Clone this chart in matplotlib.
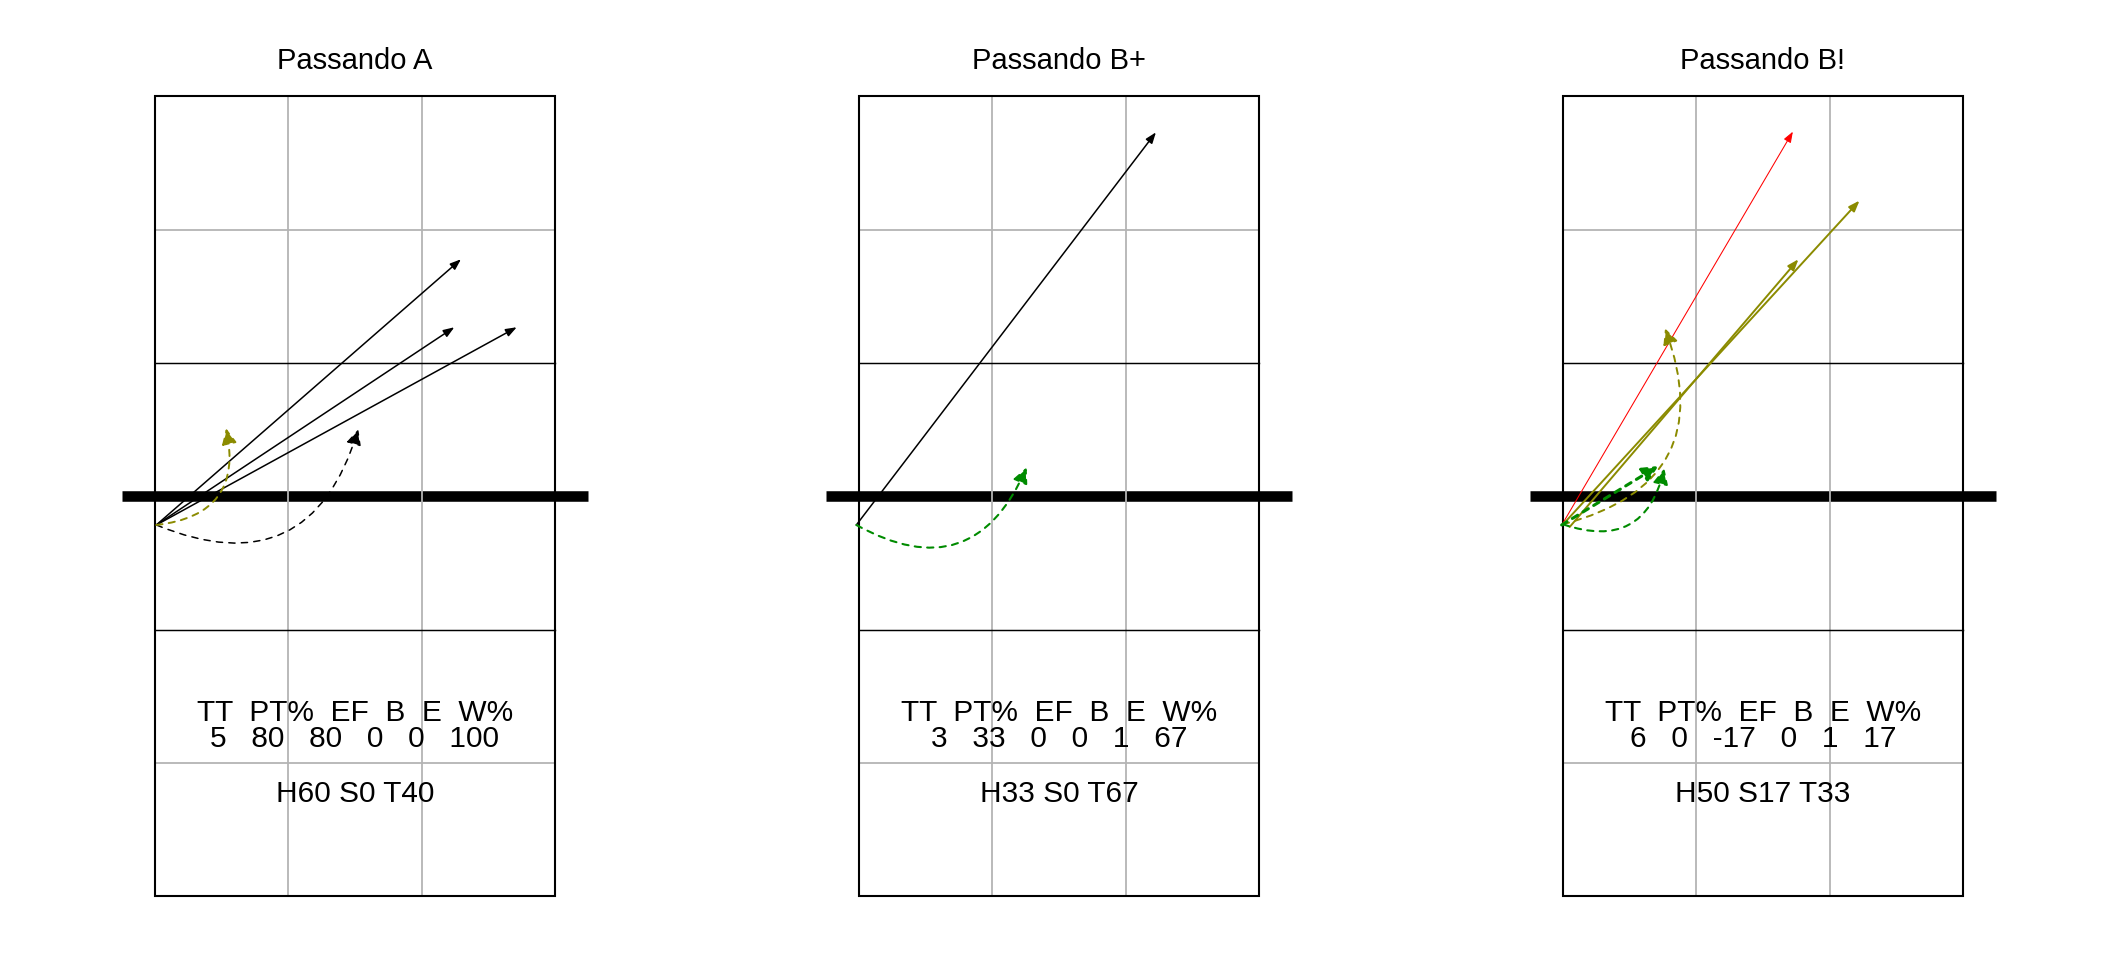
import matplotlib
matplotlib.use('Agg')
import matplotlib.pyplot as plt
from matplotlib.patches import FancyArrowPatch, Rectangle

plt.rcParams['font.family'] = ['Liberation Sans', 'DejaVu Sans']
plt.rcParams['lines.scale_dashes'] = False

titles = ['Passando A', 'Passando B+', 'Passando B!']
stat_names = ['TT', 'PT%', 'EF', 'B', 'E', 'W%']
stat_values = [
    [5, 80, 80, 0, 0, 100],
    [3, 33, 0, 0, 1, 67],
    [6, 0, -17, 0, 1, 17],
]
hard = [60, 33, 50]
soft = [0, 0, 17]
tip = [40, 67, 33]

# one entry per attack: panel, start, end, outcome code, attack type
att_panel = [0, 0, 0, 0, 0, 1, 1, 2, 2, 2, 2, 2, 2]
att_x0 = [0.01, 0.01, 0.01, 0.01, 0.01, -0.02, -0.02, 0.0, 0.01, 0.05, 0.0, -0.01, 0.0]
att_y0 = [2.785, 2.785, 2.785, 2.785, 2.785, 2.785, 2.785, 2.80, 2.80, 2.77, 2.79, 2.785, 2.79]
att_x1 = [2.295, 2.245, 2.713, 1.525, 0.533, 2.227, 1.258, 1.724, 2.224, 1.766, 0.765, 0.716, 0.76]
att_y1 = [4.778, 4.268, 4.268, 3.503, 3.51, 5.73, 3.218, 5.735, 5.218, 4.778, 4.26, 3.228, 3.21]
att_outcome = ['#', '#', '#', '#', '-', '#', '+', '=', '-', '-', '-', '+', '+']
att_type = ['H', 'H', 'H', 'T', 'T', 'H', 'T', 'H', 'H', 'H', 'T', 'S', 'T']

outcome_color = {'#': 'black', '=': '#ff0000', '-': '#8b8b00', '+': '#008b00'}
outcome_lw = {'#': 1.1, '=': 0.75, '-': 1.4, '+': 1.5}

PX = 133.33  # pixels per court unit (3 m)
fig = plt.figure(figsize=(21.12, 9.6), dpi=100)

axes = []
for i in range(3):
    ax = fig.add_axes([i / 3, 0, 1 / 3, 1])
    ax.set_xlim(-155 / PX, (704 - 155) / PX)
    ax.set_ylim((896.3 - 960) / PX, 896.3 / PX)
    ax.axis('off')
    axes.append(ax)

    # net
    ax.plot([-0.25, 3.25], [3, 3], color='black', lw=7.6, solid_capstyle='butt', zorder=1)
    # grey grid
    for g in [1, 2]:
        ax.plot([g, g], [0, 6], color='#b4b4b4', lw=1.3, zorder=2)
    for g in [1, 5]:
        ax.plot([0, 3], [g, g], color='#b4b4b4', lw=1.3, zorder=2)
    # attack lines and court border
    for g in [2, 4]:
        ax.plot([0, 3], [g, g], color='black', lw=1.05, zorder=3)
    ax.add_patch(Rectangle((0, 0), 3, 6, fill=False, edgecolor='black', lw=1.5, zorder=3))

    ax.text(1.5, 6.204, titles[i], ha='center', va='baseline', fontsize=21)
    ax.text(1.5, 1.317, '  '.join(stat_names), ha='center', va='baseline', fontsize=21.5)
    ax.text(1.5, 1.122, '   '.join(str(v) for v in stat_values[i]),
            ha='center', va='baseline', fontsize=21.5)
    ax.text(1.5, 0.71, f'H{hard[i]} S{soft[i]} T{tip[i]}',
            ha='center', va='baseline', fontsize=21.5)

for p, x0, y0, x1, y1, oc, tp in zip(att_panel, att_x0, att_y0, att_x1, att_y1,
                                     att_outcome, att_type):
    ax = axes[p]
    c = outcome_color[oc]
    lw = outcome_lw[oc]
    if tp == 'H':
        arr = FancyArrowPatch((x0, y0), (x1, y1),
                              arrowstyle='-|>,head_length=0.65,head_width=0.24',
                              mutation_scale=10, color=c, lw=lw,
                              shrinkA=0, shrinkB=0, zorder=5)
    else:
        rad = 0.0 if tp == 'S' else 0.55
        if tp == 'S':
            lw = 2.2
        arr = FancyArrowPatch((x0, y0), (x1, y1),
                              connectionstyle=f'arc3,rad={rad}',
                              arrowstyle='-|>,head_length=0.95,head_width=0.45',
                              mutation_scale=10, color=c, lw=lw,
                              linestyle=(0, (4.5, 4.5)),
                              shrinkA=0, shrinkB=0, zorder=5)
    ax.add_patch(arr)

fig.savefig('out.png', dpi=100)
